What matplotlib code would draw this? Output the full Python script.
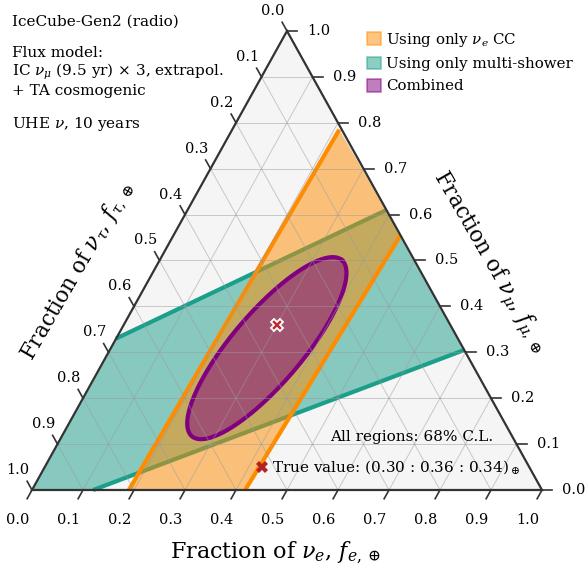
import numpy as np
import matplotlib
matplotlib.use("Agg")
import matplotlib.pyplot as plt
from matplotlib.patches import Polygon, Patch
from matplotlib.lines import Line2D

plt.rcParams["font.family"] = ["DejaVu Serif"]
plt.rcParams["mathtext.fontset"] = "dejavuserif"

# ── data (ternary fractions: f_e, f_mu; f_tau = 1 - f_e - f_mu) ──────────────
tick_vals = [0.0, 0.1, 0.2, 0.3, 0.4, 0.5, 0.6, 0.7, 0.8, 0.9, 1.0]

# nu_e CC band: (f_e, f_mu) at corners
orange_left = [(0.19, 0.0), (0.21, 0.785)]
orange_right = [(0.418, 0.0), (0.445, 0.555)]

# multi-shower band
teal_upper = [(0.0, 0.33), (0.39, 0.61)]
teal_lower = [(0.12, 0.0), (0.695, 0.305)]

# combined 68% contour (ellipse): centre, tip of major axis, minor/major ratio
ell_centre = (0.306, 0.309)
ell_tip = (0.357, 0.501)
ell_ratio = 0.305

true_value = (0.30, 0.36, 0.34)

# ── geometry helpers ─────────────────────────────────────────────────────────
SQ = np.sqrt(3) / 2
SX, SY = 510.0, 530.0  # pixels per unit in x, y


def tern(fe, fmu):
    fe = np.asarray(fe, float)
    fmu = np.asarray(fmu, float)
    return fe + fmu / 2, fmu * SQ


W, H = 586, 577
fig = plt.figure(figsize=(W / 100, H / 100), dpi=100)
ax = fig.add_axes([0, 0, 1, 1])
ax.set_xlim(-32 / SX, 1 + (W - 542) / SX)
ax.set_ylim(-(H - 490) / SY, SQ + 31 / SY)
ax.axis("off")

c_orange, c_teal, c_purple = "#ff8c00", "#1b9e8a", "#800080"
grid_c = "#9a9a9a"

# triangle background
tri = np.array([tern(0, 0), tern(1, 0), tern(0, 1)])
ax.add_patch(Polygon(tri, closed=True, facecolor="#f5f5f5", edgecolor="none", zorder=0))

# ── teal region ──────────────────────────────────────────────────────────────
teal_pts = [(0, 0), (0, teal_upper[0][1]), teal_upper[1],
            teal_lower[1], teal_lower[0]]
xy = np.array([tern(a, b) for a, b in teal_pts])
ax.add_patch(Polygon(xy, closed=True, facecolor=c_teal, alpha=0.5,
                     edgecolor="none", zorder=2))
for ln in (teal_upper, teal_lower):
    x, y = tern([p[0] for p in ln], [p[1] for p in ln])
    ax.plot(x, y, color=c_teal, lw=3, zorder=2.5, solid_capstyle="butt")

# ── orange region ────────────────────────────────────────────────────────────
orange_pts = [orange_left[0], orange_right[0], orange_right[1], orange_left[1]]
xy = np.array([tern(a, b) for a, b in orange_pts])
ax.add_patch(Polygon(xy, closed=True, facecolor=c_orange, alpha=0.5,
                     edgecolor="none", zorder=3))
for ln in (orange_left, orange_right):
    x, y = tern([p[0] for p in ln], [p[1] for p in ln])
    ax.plot(x, y, color=c_orange, lw=3, zorder=3.5, solid_capstyle="butt")

# ── combined ellipse ─────────────────────────────────────────────────────────
cx, cy = tern(*ell_centre)
tx, ty = tern(*ell_tip)
ax_px = np.array([(tx - cx) * SX, (ty - cy) * SY])
bx_px = np.array([-ax_px[1], ax_px[0]]) * ell_ratio
t = np.linspace(0, 2 * np.pi, 200)
ex = cx + (ax_px[0] * np.cos(t) + bx_px[0] * np.sin(t)) / SX
ey = cy + (ax_px[1] * np.cos(t) + bx_px[1] * np.sin(t)) / SY
ax.fill(ex, ey, color=c_purple, alpha=0.5, lw=0, zorder=4)
ax.plot(ex, ey, color=c_purple, lw=3, zorder=4.5)

# ── grid ─────────────────────────────────────────────────────────────────────
for v in tick_vals[1:-1]:
    # constant f_e
    x, y = tern([v, v], [0, 1 - v])
    ax.plot(x, y, color=grid_c, lw=0.7, alpha=0.5, zorder=5)
    # constant f_mu
    x, y = tern([0, 1 - v], [v, v])
    ax.plot(x, y, color=grid_c, lw=0.7, alpha=0.5, zorder=5)
    # constant f_tau
    x, y = tern([1 - v, 0], [0, 1 - v])
    ax.plot(x, y, color=grid_c, lw=0.7, alpha=0.5, zorder=5)

# triangle outline
ax.add_patch(Polygon(tri, closed=True, facecolor="none", edgecolor="#333333",
                     lw=1.6, zorder=6))

# ── ticks + tick labels ──────────────────────────────────────────────────────
tl = 10  # tick length, pixels
d_bot = np.array([-0.486, -0.874])
d_left = np.array([-0.486, 0.874])
tick_fs = 10.5
for v in tick_vals:
    # bottom (f_e), f_mu = 0
    x0, y0 = tern(v, 0)
    ax.plot([x0, x0 + d_bot[0] * tl / SX], [y0, y0 + d_bot[1] * tl / SY],
            color="#333333", lw=1.2, zorder=6, clip_on=False)
    ax.annotate(f"{v:.1f}", (x0, y0), xytext=(-14, -30), textcoords="offset pixels",
                ha="center", va="center", fontsize=tick_fs)
    # right (f_mu), f_tau = 0
    x0, y0 = tern(1 - v, v)
    ax.plot([x0, x0 + tl / SX], [y0, y0], color="#333333", lw=1.2, zorder=6,
            clip_on=False)
    ax.annotate(f"{v:.1f}", (x0, y0), xytext=(20, 0), textcoords="offset pixels",
                ha="left", va="center", fontsize=tick_fs)
    # left (f_tau), f_e = 0
    x0, y0 = tern(0, 1 - v)
    ax.plot([x0, x0 + d_left[0] * tl / SX], [y0, y0 + d_left[1] * tl / SY],
            color="#333333", lw=1.2, zorder=6, clip_on=False)
    ax.annotate(f"{v:.1f}", (x0, y0), xytext=(-14, 20), textcoords="offset pixels",
                ha="center", va="center", fontsize=tick_fs)

# ── true value marker ────────────────────────────────────────────────────────
mx, my = tern(true_value[0], true_value[1])
ax.plot(mx, my, marker="X", ms=9, color="#c0282d", mec="white", mew=1.3, zorder=8)

# ── axis titles ──────────────────────────────────────────────────────────────
fig.text(275 / W, 1 - 553 / H, r"Fraction of $\nu_e$, $f_{e,\oplus}$",
         ha="center", va="center", fontsize=16)
fig.text(77 / W, 1 - 271 / H, r"Fraction of $\nu_\tau$, $f_{\tau,\oplus}$",
         ha="center", va="center", fontsize=15.5, rotation=60, rotation_mode="anchor")
fig.text(489 / W, 1 - 262 / H, r"Fraction of $\nu_\mu$, $f_{\mu,\oplus}$",
         ha="center", va="center", fontsize=15.5, rotation=-60, rotation_mode="anchor")

# ── annotations ──────────────────────────────────────────────────────────────
fig.text(12 / W, 1 - 22 / H, "IceCube-Gen2 (radio)", ha="left", va="center", fontsize=11)
fig.text(12 / W, 1 - 72 / H,
         "Flux model:\n" + r"IC $\nu_\mu$ (9.5 yr) $\times$ 3, extrapol." + "\n+ TA cosmogenic",
         ha="left", va="center", fontsize=11, linespacing=1.15)
fig.text(12 / W, 1 - 124 / H, r"UHE $\nu$, 10 years", ha="left", va="center", fontsize=11)

fig.text(330 / W, 1 - 437 / H, "All regions: 68% C.L.", ha="left", va="center", fontsize=11)
fig.text(272 / W, 1 - 467 / H, r"True value: (0.30 : 0.36 : 0.34)$_\oplus$",
         ha="left", va="center", fontsize=11)
fig.lines.append(Line2D([262 / W], [1 - 467 / H], marker="X", ms=8, color="#b22222",
                        mew=0, transform=fig.transFigure))

# ── legend ───────────────────────────────────────────────────────────────────
handles = [
    Patch(facecolor=(1, 0.549, 0, 0.5), edgecolor=(1, 0.549, 0, 0.5), lw=1.2,
          label=r"Using only $\nu_e$ CC"),
    Patch(facecolor=(0.106, 0.62, 0.541, 0.5), edgecolor=(0.106, 0.62, 0.541, 0.5),
          lw=1.2, label="Using only multi-shower"),
    Patch(facecolor=(0.5, 0, 0.5, 0.5), edgecolor=(0.5, 0, 0.5, 0.5), lw=1.2,
          label="Combined"),
]
fig.legend(handles=handles, loc="upper left", bbox_to_anchor=(367 / W, 1 - 31 / H),
           frameon=False, fontsize=10.8, handlelength=0.9, handleheight=0.95,
           handletextpad=0.4, labelspacing=0.5, borderaxespad=0, borderpad=0)

fig.savefig("out.png", dpi=100)
